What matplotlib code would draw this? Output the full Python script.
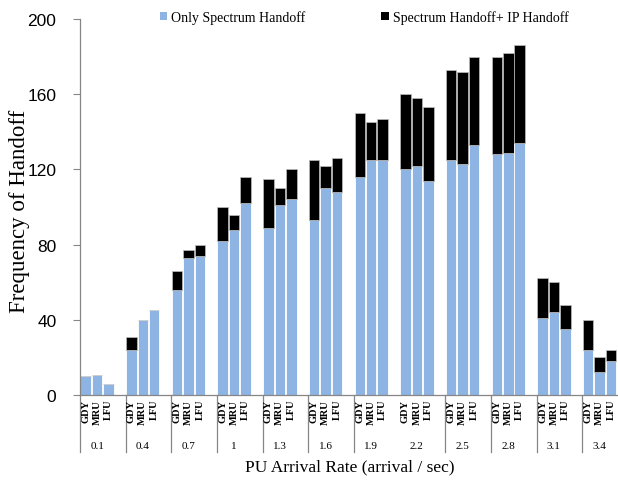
import matplotlib
matplotlib.use("Agg")
import matplotlib.pyplot as plt
from matplotlib.patches import Patch

# values
rates = ['0.1', '0.4', '0.7', '1', '1.3', '1.6', '1.9', '2.2', '2.5', '2.8', '3.1', '3.4']
policies = ['GDY', 'MRU', 'LFU']

# "Only Spectrum Handoff" (blue part)
only_gdy = [10, 24, 56, 82, 89, 93, 116, 120, 125, 128, 41, 24]
only_mru = [10.5, 40, 73, 88, 101, 110, 125, 122, 123, 128.5, 44, 12]
only_lfu = [6, 45, 74, 102, 104, 108, 125, 114, 133, 134, 35, 18]

# top of the stacked bar (Spectrum Handoff + IP Handoff)
total_gdy = [10, 31, 66, 100, 115, 125, 150, 160, 173, 180, 62, 40]
total_mru = [10.5, 40, 77, 96, 110, 122, 145, 158, 172, 182, 60, 20]
total_lfu = [6, 45, 80, 116, 120, 126, 147, 153, 180, 186, 48, 24]

BLUE = '#8DB4E2'
GREY = '#868686'
SERIF = 'Liberation Serif'

W, H = 618, 485
fig = plt.figure(figsize=(W / 100, H / 100), dpi=100)
# plot area: x from 80px, 4 slots per group (3 bars + gap), y=0 at 396px, y=200 at 20px
slot_px = 11.42
ax_w = 48 * slot_px
ax = fig.add_axes([80 / W, (H - 396) / H, ax_w / W, 376 / H])

only = [only_gdy, only_mru, only_lfu]
total = [total_gdy, total_mru, total_lfu]
for i, pol in enumerate(policies):
    xs = [4 * g + i + 0.5 for g in range(len(rates))]
    extra = [t - b for t, b in zip(total[i], only[i])]
    ax.bar(xs, only[i], width=0.92, color=BLUE, edgecolor='white', linewidth=0.6)
    ax.bar(xs, extra, bottom=only[i], width=0.92, color='black', edgecolor='#bdbdbd', linewidth=0.5)

ax.set_xlim(0, 48)
ax.set_ylim(0, 200)
ax.set_yticks(range(0, 201, 40))
ax.set_xticks([])
ax.tick_params(axis='y', direction='out', length=5, width=0.8, color=GREY, pad=12)
for lab in ax.get_yticklabels():
    lab.set_fontfamily('Liberation Sans')
    lab.set_fontsize(12.5)
for side in ['top', 'right']:
    ax.spines[side].set_visible(False)
for side in ['left', 'bottom']:
    ax.spines[side].set_color(GREY)
    ax.spines[side].set_linewidth(0.9)

# category axis: bar labels, group labels and separators
xt = ax.get_xaxis_transform()
sep_bottom = -(453 - 396) / 376
for g, rate in enumerate(rates):
    for i, pol in enumerate(policies):
        ax.text(4 * g + i + 0.5, -(400 - 396) / 376, pol, transform=xt, rotation=90,
                ha='center', va='top', fontsize=7.5, family=SERIF, fontweight='bold')
    ax.text(4 * g + 1.5, -(447 - 396) / 376, rate, transform=xt, ha='center', va='center',
            fontsize=8, family=SERIF)
for b in range(len(rates) + 1):
    if b == 7:
        continue  # no divider drawn between 1.9 and 2.2 in the original
    ax.plot([4 * b, 4 * b], [0, sep_bottom], transform=xt, color=GREY, linewidth=0.9, clip_on=False)

ax.set_ylabel('Frequency of Handoff', family=SERIF, fontsize=16.5)
ax.yaxis.set_label_coords(-(80 - 30) / ax_w, (396 - 211) / 376)
fig.text(350 / W, 1 - 467 / H, 'PU Arrival Rate (arrival / sec)', family=SERIF, fontsize=12.5,
         ha='center', va='center')

handles = [Patch(facecolor=BLUE, edgecolor='none'), Patch(facecolor='black', edgecolor='none')]
fig.legend(handles, ['Only Spectrum Handoff', 'Spectrum Handoff+ IP Handoff'], ncol=2,
           loc='center', bbox_to_anchor=(364 / W, 1 - 18 / H), frameon=False,
           prop={'family': SERIF, 'size': 10}, handlelength=0.55, handleheight=0.55,
           handletextpad=0.25, columnspacing=5.5)

fig.savefig('out.png', dpi=100)
